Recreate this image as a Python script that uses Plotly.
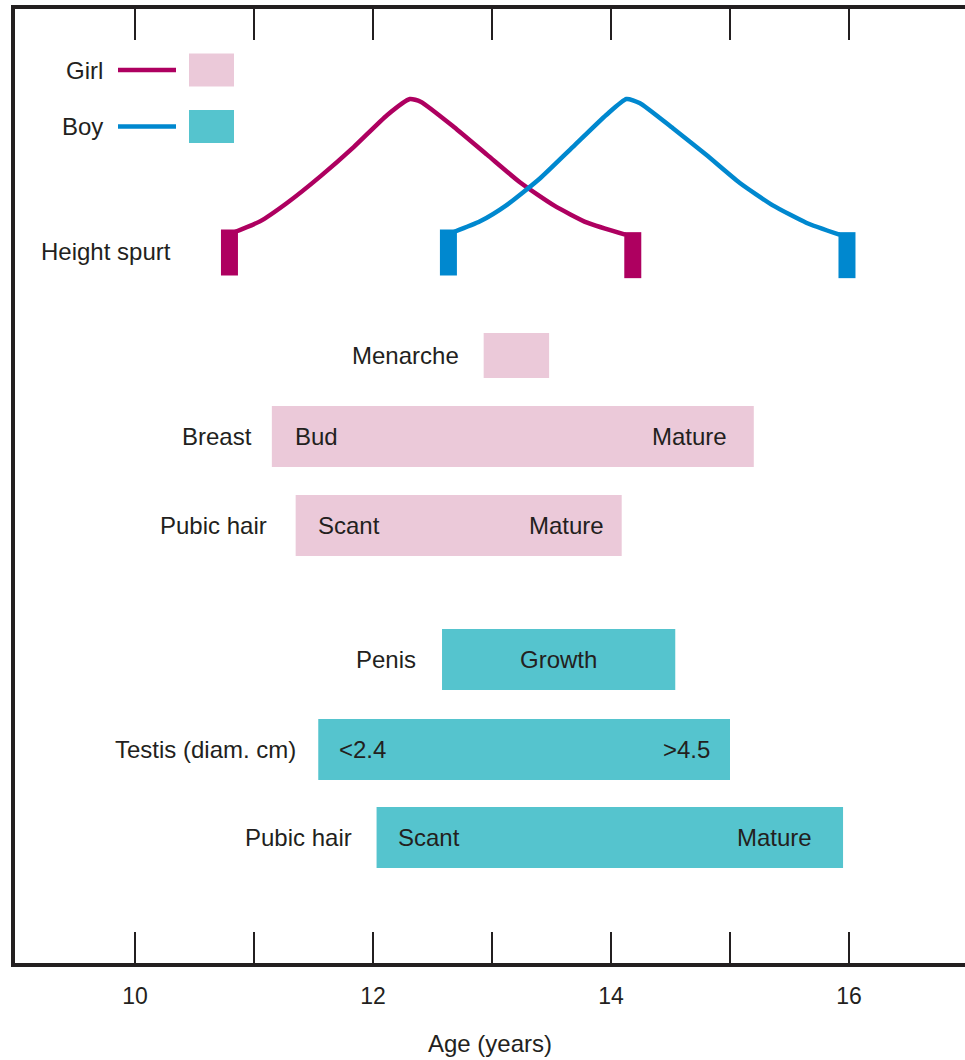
import plotly.graph_objects as go

# ---- data -------------------------------------------------------------
age_ticks = [10, 11, 12, 13, 14, 15, 16]
age_tick_text = ["10", "", "12", "", "14", "", "16"]

# height velocity during the spurt (relative units: 0 = onset, 1 = peak)
girl_spurt_age = [10.84, 11.05, 11.28, 11.56, 11.84, 12.12, 12.31, 12.40,
                  12.68, 12.96, 13.24, 13.52, 13.80, 14.12]
girl_spurt_vel = [0.00, 0.08, 0.22, 0.42, 0.64, 0.88, 1.00, 0.98,
                  0.79, 0.58, 0.37, 0.20, 0.07, -0.02]
boy_spurt_age = [12.68, 12.90, 13.12, 13.40, 13.68, 13.96, 14.13, 14.24,
                 14.52, 14.80, 15.08, 15.36, 15.64, 15.92]
boy_spurt_vel = [0.00, 0.08, 0.20, 0.40, 0.64, 0.88, 1.00, 0.97,
                 0.78, 0.58, 0.37, 0.20, 0.07, -0.02]

girl_items = ["Menarche", "Breast", "Pubic hair"]
girl_start = [12.93, 11.15, 11.35]
girl_end = [13.48, 15.20, 14.09]
girl_stage_left = ["", "Bud", "Scant"]
girl_stage_right = ["", "Mature", "Mature"]

boy_items = ["Penis", "Testis (diam. cm)", "Pubic hair"]
boy_start = [12.58, 11.54, 12.03]
boy_end = [14.54, 15.00, 15.95]
boy_stage_left = ["", "&lt;2.4", "Scant"]
boy_stage_right = ["", "&gt;4.5", "Mature"]
boy_stage_mid = ["Growth", "", ""]

# ---- styling / layout -------------------------------------------------
GIRL_LINE = "#AE0060"
GIRL_FILL = "#EBC9D9"
BOY_LINE = "#0088CF"
BOY_FILL = "#55C4CE"
INK = "#231F20"
FONT = "Liberation Sans, Arial, Helvetica, sans-serif"
FS = 24
PADFIX_L, PADFIX_R = 3, 2         # annotation box inner padding (px)

W, H = 965, 1060
ML, MT, MB = 15, 9, 97           # plot area margins (px)
PLOT_BOTTOM = H - MB
PX_PER_YEAR = 119.0
X_AT_10 = 135                     # px position of age 10
x_lo = 10 - (X_AT_10 - ML) / PX_PER_YEAR
x_hi = 10 + (W - X_AT_10) / PX_PER_YEAR

# main y axis runs in screen-like units (top = MT, bottom = PLOT_BOTTOM)
girl_row_y = [355.5, 436.5, 525.5]
girl_row_h = [45, 61, 61]
boy_row_y = [659.5, 749.5, 837.5]
boy_row_h = [61, 61, 61]
girl_label_gap = [25, 20, 29]
boy_label_gap = [26, 22, 25]
girl_pad_l, girl_pad_r = [0, 24, 23], [0, 27, 18]
boy_pad_l, boy_pad_r = [0, 22, 22], [0, 20, 31]

# velocity axis (y2): onset at px 232, peak at px 99
V0_PX, V1_PX = 232.0, 99.0
ppu = V0_PX - V1_PX
y2_hi = 1 + (V1_PX - MT) / ppu
y2_lo = y2_hi - (PLOT_BOTTOM - MT) / ppu
MARK_W = 17 / PX_PER_YEAR
MARK_H = 46 / ppu


def px_x(px):
    return 10 + (px - X_AT_10) / PX_PER_YEAR


fig = go.Figure()

# pubertal stage bars
for starts, ends, rows, hts, fill, name in [
    (girl_start, girl_end, girl_row_y, girl_row_h, GIRL_FILL, "Girl"),
    (boy_start, boy_end, boy_row_y, boy_row_h, BOY_FILL, "Boy"),
]:
    fig.add_trace(go.Bar(
        orientation="h",
        base=starts,
        x=[e - s for s, e in zip(starts, ends)],
        y=rows,
        width=hts,
        marker=dict(color=fill, line=dict(width=0)),
        name=name,
        showlegend=False,
        hoverinfo="skip",
    ))

# height spurt curves
for ages, vel, col in [(girl_spurt_age, girl_spurt_vel, GIRL_LINE),
                       (boy_spurt_age, boy_spurt_vel, BOY_LINE)]:
    fig.add_trace(go.Scatter(
        x=ages, y=vel, yaxis="y2", mode="lines",
        line=dict(color=col, width=4.5, shape="spline", smoothing=0.55),
        showlegend=False, hoverinfo="skip",
    ))
    # onset and end markers
    for xa, va, side in [(ages[0], vel[0], -1), (ages[-1], vel[-1], 1)]:
        if side < 0:
            x0, x1 = xa - MARK_W + 3 / PX_PER_YEAR, xa + 3 / PX_PER_YEAR
        else:
            x0, x1 = xa - 1 / PX_PER_YEAR, xa - 1 / PX_PER_YEAR + MARK_W
        top = va + 2.5 / ppu
        fig.add_shape(type="rect", xref="x", yref="y2", x0=x0, x1=x1,
                      y0=top - MARK_H, y1=top, fillcolor=col,
                      line=dict(width=0), layer="above")

annotations = []


def txt(text, x, y, xanchor="center", xshift=0, xref="x", yref="y"):
    if xanchor == "left":
        xshift -= PADFIX_L
    elif xanchor == "right":
        xshift += PADFIX_R
    annotations.append(dict(text=text, x=x, y=y, xref=xref, yref=yref,
                            xanchor=xanchor, yanchor="middle", xshift=xshift,
                            showarrow=False, font=dict(family=FONT, size=FS, color=INK)))


for i, item in enumerate(girl_items):
    txt(item, girl_start[i], girl_row_y[i], "right", -girl_label_gap[i])
    if girl_stage_left[i]:
        txt(girl_stage_left[i], girl_start[i], girl_row_y[i], "left", girl_pad_l[i])
    if girl_stage_right[i]:
        txt(girl_stage_right[i], girl_end[i], girl_row_y[i], "right", -girl_pad_r[i])

for i, item in enumerate(boy_items):
    txt(item, boy_start[i], boy_row_y[i], "right", -boy_label_gap[i])
    if boy_stage_left[i]:
        txt(boy_stage_left[i], boy_start[i], boy_row_y[i], "left", boy_pad_l[i])
    if boy_stage_right[i]:
        txt(boy_stage_right[i], boy_end[i], boy_row_y[i], "right", -boy_pad_r[i])
    if boy_stage_mid[i]:
        txt(boy_stage_mid[i], (boy_start[i] + boy_end[i]) / 2, boy_row_y[i])

txt("Height spurt", px_x(42), 251, "left")

# key: sex -> line + fill swatch
for label, y, line_col, fill_col in [("Girl", 70, GIRL_LINE, GIRL_FILL),
                                     ("Boy", 126.5, BOY_LINE, BOY_FILL)]:
    txt(label, px_x(103), y, "right")
    fig.add_shape(type="line", xref="x", yref="y", x0=px_x(118), x1=px_x(176),
                  y0=y, y1=y, line=dict(color=line_col, width=4.5))
    fig.add_shape(type="rect", xref="x", yref="y", x0=px_x(189), x1=px_x(234),
                  y0=y - 16.5, y1=y + 16.5, fillcolor=fill_col, line=dict(width=0))

fig.update_layout(
    width=W, height=H,
    margin=dict(l=ML, r=0, t=MT, b=MB, pad=0),
    paper_bgcolor="white", plot_bgcolor="white",
    barmode="overlay",
    showlegend=False,
    annotations=annotations,
    font=dict(family=FONT, color=INK, size=FS),
    xaxis=dict(
        range=[x_lo, x_hi], tickvals=age_ticks, ticktext=age_tick_text,
        ticks="inside", ticklen=31, tickwidth=1.6, tickcolor=INK,
        showline=True, linewidth=4, linecolor=INK, mirror="ticks",
        showgrid=False, zeroline=False,
        tickfont=dict(family=FONT, size=23, color=INK),
        ticklabelstandoff=9,
        title=dict(text="Age (years)", font=dict(family=FONT, size=FS, color=INK),
                   standoff=29),
        fixedrange=True,
    ),
    yaxis=dict(
        range=[PLOT_BOTTOM, MT], showline=True, linewidth=4, linecolor=INK,
        mirror=False, showticklabels=False, ticks="", showgrid=False,
        zeroline=False, fixedrange=True,
    ),
    yaxis2=dict(
        range=[y2_lo, y2_hi], overlaying="y", visible=False, fixedrange=True,
    ),
)

fig.write_html("out.html", config={"displayModeBar": False})
